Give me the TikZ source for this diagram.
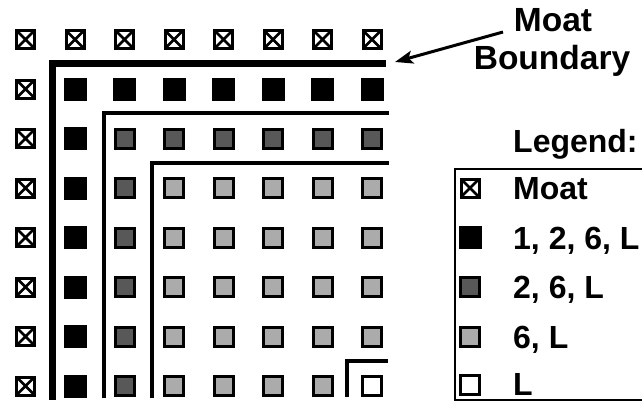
\documentclass[tikz,border=0pt]{standalone}
\usepackage{fontspec}
\setmainfont{Liberation Sans}
\usetikzlibrary{arrows.meta}
\definecolor{darkcell}{HTML}{585858}
\definecolor{lightcell}{HTML}{ABABAB}
\begin{document}
\begin{tikzpicture}[x=1pt,y=-1pt,
 cell/.style={rectangle, inner sep=0pt, minimum size=19pt, draw=black, line width=3pt},
 moatcell/.style={cell, minimum size=18pt, fill=white, path picture={\draw[line width=2.6pt] (path picture bounding box.north west) -- (path picture bounding box.south east) (path picture bounding box.north east) -- (path picture bounding box.south west);}},
 blackcell/.style={cell, fill=black, minimum size=20pt},
 darkcellstyle/.style={cell, fill=darkcell},
 lightcellstyle/.style={cell, fill=lightcell},
 whitecell/.style={cell, fill=white, line width=2.5pt},
 thickwall/.style={line width=7pt, line join=miter},
 wall/.style={line width=4pt, line join=miter},
 lbl/.style={font=\fontsize{32}{38}\selectfont\bfseries, inner sep=0pt},
 biglbl/.style={font=\fontsize{33.5}{40}\selectfont\bfseries, inner sep=0pt},
 legendbox/.style={line width=2.5pt}]
\useasboundingbox (0,0) rectangle (642,402);
\foreach \r in {0,...,7}{
  \foreach \c in {0,...,7}{
    \pgfmathtruncatemacro\m{min(\r,\c)}
    \ifnum\m=0
      \node[moatcell] (c\r\c) at ({25.5+49.5*\c},{39.5+49.5*\r}) {};
    \else\ifnum\m=1
      \node[blackcell] (c\r\c) at ({25.5+49.5*\c},{39.5+49.5*\r}) {};
    \else\ifnum\m=2
      \node[darkcellstyle] (c\r\c) at ({25.5+49.5*\c},{39.5+49.5*\r}) {};
    \else\ifnum\m=7
      \node[whitecell] (c\r\c) at ({25.5+49.5*\c},{39.5+49.5*\r}) {};
    \else
      \node[lightcellstyle] (c\r\c) at ({25.5+49.5*\c},{39.5+49.5*\r}) {};
    \fi\fi\fi\fi
  }
}
% boundary lines
\draw[thickwall] (52,400) -- (52,63) -- (386,63);
\draw[wall] (104,398) -- (104,113) -- (389,113);
\draw[wall] (152,398) -- (152,163) -- (389,163);
\draw[wall] (347,397) -- (347,361) -- (388,361);
% moat boundary label
\node[biglbl, anchor=base] (moatlbl) at (553,31) {Moat};
\node[biglbl, anchor=base] (boundlbl) at (552,69) {Boundary};
\coordinate (arrowtail) at (503,32);
\coordinate (arrowtip) at (395,62);
\draw[line width=3pt, -{Stealth[length=18pt,width=13pt,inset=4pt]}] (arrowtail) -- (arrowtip);
% legend
\node[lbl, anchor=base west] (legtitle) at (513,152) {Legend:};
\draw[legendbox] (642,169) -- (455,169) -- (455,400) -- (642,400);
\node[moatcell] (lg0) at (470,188) {};
\node[blackcell] (lg1) at (470,237.5) {};
\node[darkcellstyle] (lg2) at (470,287) {};
\node[lightcellstyle] (lg3) at (470,336.5) {};
\node[whitecell] (lg4) at (470,385) {};
\node[lbl, anchor=base west] (lt0) at (513,199.5) {Moat};
\node[lbl, anchor=base west] (lt1) at (513,249) {1, 2, 6, L};
\node[lbl, anchor=base west] (lt2) at (513,298.5) {2, 6, L};
\node[lbl, anchor=base west] (lt3) at (513,348) {6, L};
\node[lbl, anchor=base west] (lt4) at (513,395) {L};
\end{tikzpicture}
\end{document}
